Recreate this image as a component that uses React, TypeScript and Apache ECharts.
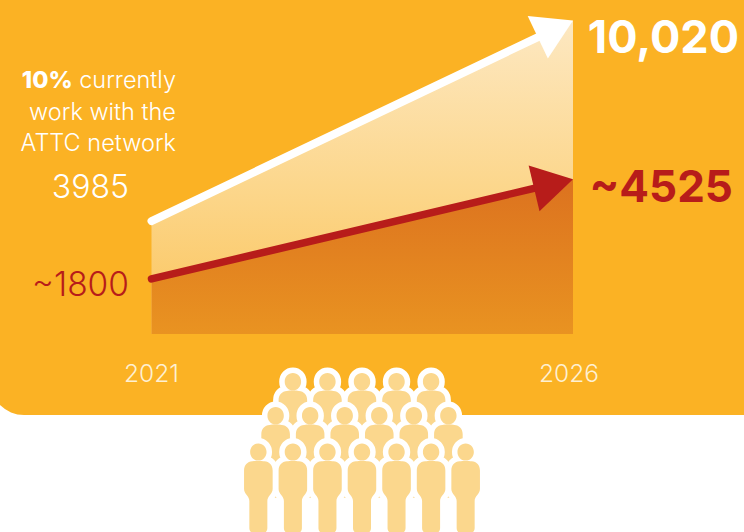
import React, { useEffect, useRef } from "react";
import * as echarts from "echarts";

const years = ["2021", "2026"];
// Heights as drawn: the graphic is schematic, so its positions follow the picture, not the printed numbers.
const totalDrawn = [3610, 10020];
const networkDrawn = [1760, 4950];
const totalLabels = ["3985", "10,020"];
const networkLabels = ["~1800", "~4525"];
const noteLines = ["{b|10%} currently", "work with the", "ATTC network"];
const peopleRows = [5, 6, 7];

const FONT = "Inter, sans-serif";
const ORANGE = "#FBB224";
const RED = "#B71C1A";
const PERSON = "#FBD78D";

echarts.graphic.registerShape(
  "person",
  echarts.graphic.extendPath(
    "M0,-8.6 C4.8,-8.6 8.2,-4.8 8.2,0 C8.2,4.8 4.8,8.6 0,8.6 C-4.8,8.6 -8.2,4.8 -8.2,0 C-8.2,-4.8 -4.8,-8.6 0,-8.6 Z " +
      "M-6,9.2 C-11,9.6 -14.3,13 -14.3,18.5 L-14.3,37 C-14.3,42 -9,44 -9,49 L-9,76 C-9,80 -6,82 0,82 C6,82 9,80 9,76 L9,49 C9,44 14.3,42 14.3,37 L14.3,18.5 C14.3,13 11,9.6 6,9.2 C3,8.8 -3,8.8 -6,9.2 Z",
    {}
  )
);

function peopleGraphics() {
  const out: any[] = [];
  const rowY = [381.7, 415.7, 452];
  const spacing = 34.55;
  peopleRows.forEach((count, r) => {
    const x0 = 362 - ((count - 1) * spacing) / 2;
    for (let i = 0; i < count; i++) {
      const x = x0 + i * spacing;
      out.push({
        type: "person",
        x,
        y: rowY[r],
        style: { fill: "#fff", stroke: "#fff", lineWidth: 11, lineJoin: "round" },
      });
      out.push({ type: "person", x, y: rowY[r], style: { fill: PERSON } });
    }
  });
  return out;
}

function arrowSeries(values: number[], color: string, width: number, headLen: number, headWidth: number) {
  return {
    type: "custom",
    z: 5,
    silent: true,
    clip: false,
    encode: { x: [0, 2], y: [1, 3] },
    data: [[0, values[0], 1, values[1]]],
    renderItem: (_: any, api: any) => {
      const a = api.coord([api.value(0), api.value(1)]);
      const b = api.coord([api.value(2), api.value(3)]);
      const dx = b[0] - a[0];
      const dy = b[1] - a[1];
      const len = Math.hypot(dx, dy);
      const ux = dx / len;
      const uy = dy / len;
      const bx = b[0] - ux * headLen;
      const by = b[1] - uy * headLen;
      const nx = -uy * (headWidth / 2);
      const ny = ux * (headWidth / 2);
      return {
        type: "group",
        children: [
          {
            type: "line",
            shape: { x1: a[0], y1: a[1], x2: bx + ux * 2, y2: by + uy * 2 },
            style: { stroke: color, lineWidth: width, lineCap: "round" },
          },
          {
            type: "polygon",
            shape: { points: [[b[0], b[1]], [bx + nx, by + ny], [bx - nx, by - ny]] },
            style: { fill: color },
          },
        ],
      };
    },
  };
}

function text(x: number, y: number, t: string, size: number, fill: string, align: string, weight: any = 300, rich?: any) {
  return {
    type: "text",
    x,
    y,
    z: 10,
    style: { text: t, fill, fontSize: size, fontFamily: FONT, fontWeight: weight, align, verticalAlign: "middle", rich },
  };
}

export default function App() {
  const ref = useRef<HTMLDivElement>(null);
  useEffect(() => {
    document.body.style.margin = "0";
    const chart = echarts.init(ref.current!, null, { renderer: "svg" });
    const noteRich = { b: { fontWeight: 800, fontSize: 23.5, fill: "#fff", fontFamily: FONT } };
    chart.setOption({
      animation: false,
      backgroundColor: "#ffffff",
      grid: { left: 151.5, right: 171, top: 20.5, bottom: 198 },
      xAxis: {
        type: "category",
        boundaryGap: false,
        data: years.map((y, i) => (i === 1 ? { value: y, textStyle: { padding: [0, 8, 0, 0] } } : { value: y })),
        axisLine: { show: false },
        axisTick: { show: false },
        splitLine: { show: false },
        axisLabel: {
          interval: 0,
          margin: 26,
          fontSize: 24.5,
          fontWeight: 300,
          fontFamily: FONT,
          color: "#FEF0D2",
        },
      },
      yAxis: { type: "value", min: 0, max: 10020, show: false, splitLine: { show: false } },
      series: [
        {
          type: "line",
          data: totalDrawn,
          symbol: "none",
          lineStyle: { width: 0 },
          z: 3,
          areaStyle: {
            opacity: 1,
            color: new echarts.graphic.LinearGradient(0, 0, 0, 1, [
              { offset: 0, color: "#FDE8C2" },
              { offset: 0.55, color: "#FCD68A" },
              { offset: 1, color: "#FBC45C" },
            ]),
          },
        },
        {
          type: "line",
          data: networkDrawn,
          symbol: "none",
          lineStyle: { width: 0 },
          z: 4,
          areaStyle: {
            opacity: 1,
            color: new echarts.graphic.LinearGradient(0, 0, 0, 1, [
              { offset: 0, color: "#DC721F" },
              { offset: 1, color: "#E99321" },
            ]),
          },
        },
        arrowSeries(totalDrawn, "#ffffff", 8, 39, 47),
        arrowSeries(networkDrawn, RED, 7.5, 40, 47),
      ],
      graphic: [
        {
          type: "rect",
          z: -10,
          silent: true,
          shape: { x: -10, y: -30, width: 770, height: 445, r: [0, 0, 0, 34] },
          style: { fill: ORANGE },
        },
        {
          type: "group",
          z: 1,
          silent: true,
          children: peopleGraphics(),
        },
        text(176, 79, noteLines[0], 23.5, "#fff", "right", 300, noteRich),
        text(176, 111, noteLines[1], 23.5, "#fff", "right"),
        text(176, 142, noteLines[2], 23.5, "#fff", "right"),
        text(129, 186, totalLabels[0], 32, "#fff", "right"),
        text(129, 284, networkLabels[0], 33.5, RED, "right"),
        text(739, 36, totalLabels[1], 45, "#fff", "right", 700),
        text(733, 186, networkLabels[1], 44, RED, "right", 700),
      ],
    });
    return () => chart.dispose();
  }, []);
  return <div ref={ref} style={{ position: "fixed", left: 0, top: 0, width: 744, height: 532 }} />;
}
